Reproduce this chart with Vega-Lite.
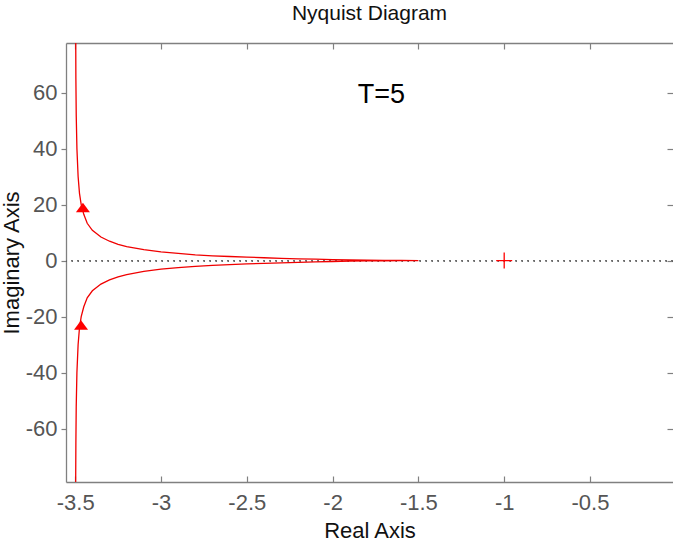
{
  "$schema": "https://vega.github.io/schema/vega-lite/v6.json",
  "autosize": "none",
  "width": 607,
  "height": 439,
  "padding": {"left": 66, "top": 43, "right": 0, "bottom": 65},
  "background": "white",
  "title": {
    "text": "Nyquist Diagram",
    "font": "Liberation Sans",
    "fontSize": 21,
    "fontWeight": "normal",
    "color": "#111111",
    "anchor": "middle",
    "baseline": "alphabetic",
    "offset": 1
  },
  "config": {
    "view": {"stroke": null},
    "axis": {
      "grid": false,
      "domainColor": "#808080",
      "domainWidth": 1.3,
      "tickColor": "#808080",
      "tickWidth": 1.2,
      "labelFont": "Liberation Sans",
      "labelFontSize": 22,
      "labelColor": "#555555",
      "titleFont": "Liberation Sans",
      "titleFontSize": 22,
      "titleFontWeight": "normal",
      "titleColor": "#111111"
    }
  },
  "datasets": {
    "curve": [
      {"k": 1, "re": -3.4972, "im": -79.1},
      {"k": 2, "re": -3.496, "im": -65},
      {"k": 3, "re": -3.494, "im": -52},
      {"k": 4, "re": -3.49, "im": -40},
      {"k": 5, "re": -3.483, "im": -30},
      {"k": 6, "re": -3.475, "im": -24},
      {"k": 7, "re": -3.465, "im": -20},
      {"k": 8, "re": -3.45, "im": -16.5},
      {"k": 9, "re": -3.43, "im": -13.3},
      {"k": 10, "re": -3.4, "im": -10.8},
      {"k": 11, "re": -3.35, "im": -8.4},
      {"k": 12, "re": -3.3, "im": -6.9},
      {"k": 13, "re": -3.25, "im": -5.8},
      {"k": 14, "re": -3.2, "im": -5.0},
      {"k": 15, "re": -3.1, "im": -3.9},
      {"k": 16, "re": -3.0, "im": -3.1},
      {"k": 17, "re": -2.9, "im": -2.55},
      {"k": 18, "re": -2.8, "im": -2.05},
      {"k": 19, "re": -2.7, "im": -1.7},
      {"k": 20, "re": -2.6, "im": -1.45},
      {"k": 21, "re": -2.5, "im": -1.22},
      {"k": 22, "re": -2.4, "im": -1.0},
      {"k": 23, "re": -2.3, "im": -0.8},
      {"k": 24, "re": -2.2, "im": -0.62},
      {"k": 25, "re": -2.1, "im": -0.47},
      {"k": 26, "re": -2.0, "im": -0.34},
      {"k": 27, "re": -1.9, "im": -0.24},
      {"k": 28, "re": -1.8, "im": -0.15},
      {"k": 29, "re": -1.7, "im": -0.09},
      {"k": 30, "re": -1.6, "im": -0.04},
      {"k": 31, "re": -1.5, "im": 0},
      {"k": 32, "re": -1.6, "im": 0.04},
      {"k": 33, "re": -1.7, "im": 0.09},
      {"k": 34, "re": -1.8, "im": 0.15},
      {"k": 35, "re": -1.9, "im": 0.24},
      {"k": 36, "re": -2.0, "im": 0.34},
      {"k": 37, "re": -2.1, "im": 0.47},
      {"k": 38, "re": -2.2, "im": 0.62},
      {"k": 39, "re": -2.3, "im": 0.8},
      {"k": 40, "re": -2.4, "im": 1.0},
      {"k": 41, "re": -2.5, "im": 1.22},
      {"k": 42, "re": -2.6, "im": 1.45},
      {"k": 43, "re": -2.7, "im": 1.7},
      {"k": 44, "re": -2.8, "im": 2.05},
      {"k": 45, "re": -2.9, "im": 2.55},
      {"k": 46, "re": -3.0, "im": 3.1},
      {"k": 47, "re": -3.1, "im": 3.9},
      {"k": 48, "re": -3.2, "im": 5.0},
      {"k": 49, "re": -3.25, "im": 5.8},
      {"k": 50, "re": -3.3, "im": 6.9},
      {"k": 51, "re": -3.35, "im": 8.4},
      {"k": 52, "re": -3.4, "im": 10.8},
      {"k": 53, "re": -3.43, "im": 13.3},
      {"k": 54, "re": -3.45, "im": 16.5},
      {"k": 55, "re": -3.465, "im": 20},
      {"k": 56, "re": -3.475, "im": 24},
      {"k": 57, "re": -3.483, "im": 30},
      {"k": 58, "re": -3.49, "im": 40},
      {"k": 59, "re": -3.494, "im": 52},
      {"k": 60, "re": -3.496, "im": 65},
      {"k": 61, "re": -3.4968, "im": 77.7}
    ],
    "arrows": [
      {"re": -3.455, "im": 18.9},
      {"re": -3.466, "im": -23.1}
    ],
    "critical": [{"re": -1, "im": 0}],
    "note": [{"re": -1.715, "im": 59, "label": "T=5"}]
  },
  "resolve": {"axis": {"x": "independent", "y": "independent"}},
  "layer": [
    {
      "data": {"name": "curve"},
      "mark": {"type": "rule", "color": "#707070", "strokeWidth": 1, "strokeDash": [1.5, 4.5]},
      "encoding": {
        "y": {"datum": 0, "type": "quantitative", "scale": {"domain": [-79.1, 77.7], "nice": false, "zero": false}, "axis": null}
      }
    },
    {
      "data": {"name": "curve"},
      "mark": {"type": "line", "color": "#f00000", "strokeWidth": 1.3, "clip": true},
      "encoding": {
        "x": {
          "field": "re", "type": "quantitative",
          "scale": {"domain": [-3.5536, -0.0163], "nice": false, "zero": false},
          "axis": {
            "orient": "bottom",
            "title": "Real Axis",
            "values": [-3.5, -3, -2.5, -2, -1.5, -1, -0.5],
            "labelExpr": "'' + datum.value",
            "tickSize": -6,
            "labelPadding": 16,
            "titlePadding": 7
          }
        },
        "y": {
          "field": "im", "type": "quantitative",
          "scale": {"domain": [-79.1, 77.7], "nice": false, "zero": false},
          "axis": {
            "orient": "left",
            "title": "Imaginary Axis",
            "values": [-60, -40, -20, 0, 20, 40, 60],
            "labelExpr": "'' + datum.value",
            "tickSize": 5,
            "labelPadding": 4,
            "titlePadding": 2
          }
        },
        "order": {"field": "k", "type": "quantitative"}
      }
    },
    {
      "data": {"name": "arrows"},
      "mark": {"type": "point", "shape": "M-1,0.65L1,0.65L0,-0.7Z", "size": 196, "filled": true, "color": "#ff0000", "opacity": 1},
      "encoding": {
        "x": {"field": "re", "type": "quantitative", "scale": {"domain": [-3.5536, -0.0163], "nice": false, "zero": false}, "axis": null},
        "y": {"field": "im", "type": "quantitative", "scale": {"domain": [-79.1, 77.7], "nice": false, "zero": false}, "axis": null}
      }
    },
    {
      "data": {"name": "critical"},
      "mark": {"type": "point", "shape": "M-1,0L1,0M0,-1L0,1", "size": 256, "filled": false, "stroke": "#ff0000", "strokeWidth": 1.3, "opacity": 1},
      "encoding": {
        "x": {"field": "re", "type": "quantitative", "scale": {"domain": [-3.5536, -0.0163], "nice": false, "zero": false}, "axis": null},
        "y": {"field": "im", "type": "quantitative", "scale": {"domain": [-79.1, 77.7], "nice": false, "zero": false}, "axis": null}
      }
    },
    {
      "data": {"name": "note"},
      "mark": {"type": "text", "font": "Liberation Sans", "fontSize": 27, "color": "#000000", "align": "center", "baseline": "middle"},
      "encoding": {
        "x": {
          "field": "re", "type": "quantitative",
          "scale": {"domain": [-3.5536, -0.0163], "nice": false, "zero": false},
          "axis": {"orient": "top", "title": null, "labels": false, "values": [-3.5, -3, -2.5, -2, -1.5, -1, -0.5], "tickSize": -6}
        },
        "y": {
          "field": "im", "type": "quantitative",
          "scale": {"domain": [-79.1, 77.7], "nice": false, "zero": false},
          "axis": {"orient": "right", "title": null, "labels": false, "domain": false, "values": [-60, -40, -20, 0, 20, 40, 60], "tickSize": -6}
        },
        "text": {"field": "label"}
      }
    }
  ]
}
